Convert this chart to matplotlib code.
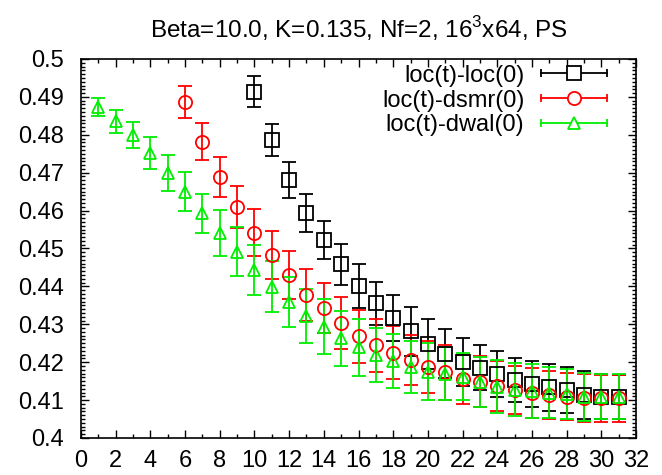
import matplotlib
matplotlib.use("Agg")
import matplotlib.pyplot as plt
from matplotlib.lines import Line2D
from matplotlib.legend_handler import HandlerBase
from matplotlib.ticker import MultipleLocator, FuncFormatter

plt.rcParams['font.family'] = ['Liberation Sans', 'DejaVu Sans']
plt.rcParams['mathtext.fontset'] = 'custom'
plt.rcParams['mathtext.rm'] = 'Liberation Sans'

# data
t_loc = list(range(10, 32))
v_loc = [0.4914, 0.4786, 0.4681, 0.4594, 0.4522, 0.4458, 0.4401, 0.4355, 0.4316, 0.4281,
         0.4248, 0.4222, 0.4201, 0.4186, 0.4169, 0.4153, 0.4142, 0.4134, 0.4127, 0.4113,
         0.4109, 0.4109]
e_loc = [0.0040, 0.0043, 0.0048, 0.0051, 0.0050, 0.0055, 0.0057, 0.0056, 0.0060, 0.0064,
         0.0065, 0.0065, 0.0064, 0.0060, 0.0060, 0.0059, 0.0060, 0.0062, 0.0060, 0.0063,
         0.0060, 0.0058]

t_dsmr = list(range(6, 32))
v_dsmr = [0.4887, 0.4782, 0.4689, 0.4610, 0.4542, 0.4483, 0.4430, 0.4377, 0.4342, 0.4304,
          0.4269, 0.4245, 0.4225, 0.4206, 0.4188, 0.4173, 0.4155, 0.4149, 0.4137, 0.4127,
          0.4118, 0.4113, 0.4109, 0.4105, 0.4105, 0.4105]
e_dsmr = [0.0042, 0.0048, 0.0053, 0.0056, 0.0061, 0.0064, 0.0063, 0.0068, 0.0066, 0.0069,
          0.0070, 0.0070, 0.0070, 0.0067, 0.0068, 0.0073, 0.0065, 0.0067, 0.0066, 0.0063,
          0.0066, 0.0063, 0.0062, 0.0064, 0.0062, 0.0062]

t_dwal = list(range(1, 32))
v_dwal = [0.4874, 0.4836, 0.4799, 0.4753, 0.4700, 0.4650, 0.4593, 0.4540, 0.4492, 0.4443,
          0.4399, 0.4360, 0.4322, 0.4294, 0.4263, 0.4239, 0.4219, 0.4204, 0.4187, 0.4175,
          0.4169, 0.4162, 0.4149, 0.4135, 0.4127, 0.4124, 0.4120, 0.4116, 0.4109, 0.4109,
          0.4109]
e_dwal = [0.0024, 0.0030, 0.0035, 0.0042, 0.0047, 0.0051, 0.0051, 0.0061, 0.0065, 0.0066,
          0.0067, 0.0066, 0.0071, 0.0072, 0.0072, 0.0075, 0.0071, 0.0071, 0.0068, 0.0075,
          0.0070, 0.0063, 0.0066, 0.0070, 0.0070, 0.0070, 0.0067, 0.0066, 0.0063, 0.0060,
          0.0059]

series = [
    (t_loc, v_loc, e_loc, 'black', 's', 'loc(t)-loc(0)'),
    (t_dsmr, v_dsmr, e_dsmr, '#ff0000', 'o', 'loc(t)-dsmr(0)'),
    (t_dwal, v_dwal, e_dwal, '#00ee00', '^', 'loc(t)-dwal(0)'),
]


class HErrHandler(HandlerBase):
    # gnuplot-like key sample: horizontal bar with end caps and the point in the middle
    def create_artists(self, legend, orig_handle, xdescent, ydescent, width, height, fontsize, trans):
        c = orig_handle.get_color()
        y = height / 2 - ydescent
        x0, x1 = -xdescent, width - xdescent
        ln = Line2D([x0, x1], [y, y], color=c, lw=1.3)
        caps = Line2D([x0, x1], [y, y], ls='none', marker='|', ms=6, mew=1.3, color=c)
        mk = Line2D([(x0 + x1) / 2], [y], ls='none', marker=orig_handle.get_marker(),
                    ms=orig_handle.get_markersize(), mfc='white', mec=c, mew=1.3)
        for a in (ln, caps, mk):
            a.set_transform(trans)
        return [ln, caps, mk]


fig = plt.figure(figsize=(6.62, 4.75), dpi=100)
ax = fig.add_axes([0.1224, 0.0779, 0.8383, 0.7979])

handles = []
for t, v, e, c, m, lab in series:
    ms = 8 if m == '^' else 9.5
    ax.errorbar(t, v, yerr=e, fmt=m, color=c, ms=ms, mfc='none', mec=c, mew=1.3,
                elinewidth=1.3, capsize=5, capthick=1.3)
    handles.append(Line2D([], [], color=c, marker=m, ms=ms, label=lab))

ax.set_xlim(0, 32)
ax.set_ylim(0.4, 0.5)
ax.xaxis.set_major_locator(MultipleLocator(2))
ax.xaxis.set_minor_locator(MultipleLocator(1))
ax.yaxis.set_major_locator(MultipleLocator(0.01))
ax.yaxis.set_minor_locator(MultipleLocator(0.001))
ax.yaxis.set_major_formatter(FuncFormatter(lambda v, p: ('%.2f' % v).rstrip('0')))
ax.tick_params(which='both', direction='in', top=True, right=True, labelsize=17, width=1)
ax.tick_params(axis='x', which='major', length=6, pad=9)
ax.tick_params(axis='y', which='major', length=6, pad=12)
ax.tick_params(which='minor', length=3)
for s in ax.spines.values():
    s.set_linewidth(1.2)

ax.set_title('Beta=10.0, K=0.135, Nf=2, 16$^3$x64, PS', fontsize=17.5, pad=15)

ax.legend(handles=handles, loc='upper right', bbox_to_anchor=(0.948, 0.985), frameon=False,
          fontsize=17, markerfirst=False, handlelength=2.8, handletextpad=0.7,
          labelspacing=0.12, borderpad=0, borderaxespad=0,
          handler_map={Line2D: HErrHandler()})

fig.savefig('out.png', dpi=100)
